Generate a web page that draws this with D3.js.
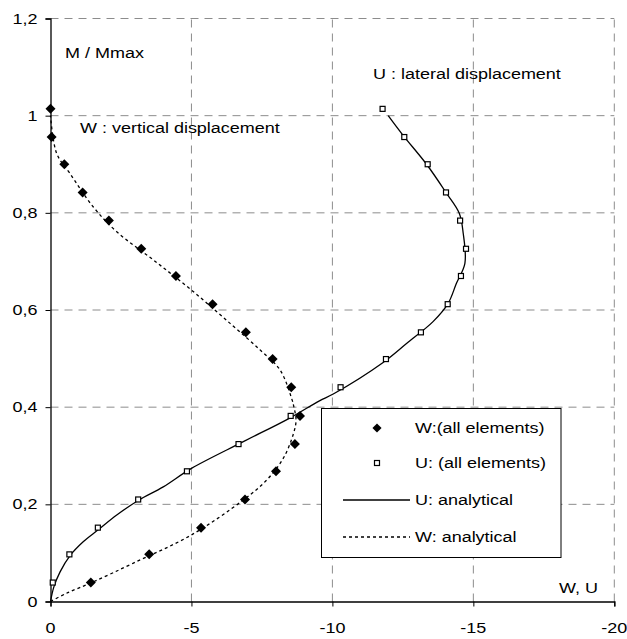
<!DOCTYPE html>
<html>
<head>
<meta charset="utf-8">
<script src="https://cdn.jsdelivr.net/npm/d3@7"></script>
<style>
  body { margin: 0; background: #fff; }
  svg text { font-family: Arial, "Liberation Sans", sans-serif; font-size: 15px; fill: #000; }
</style>
</head>
<body>
<div id="chart"></div>
<script>
// levels of M / Mmax where the elements were evaluated
const levels = [0.039, 0.097, 0.152, 0.21, 0.268, 0.324, 0.382, 0.441, 0.499, 0.554,
                0.612, 0.67, 0.726, 0.784, 0.842, 0.9, 0.956, 1.014];
const wElements = [-1.43, -3.5, -5.34, -6.9, -8.0, -8.67, -8.85, -8.54, -7.88, -6.93,
                   -5.75, -4.45, -3.22, -2.07, -1.14, -0.49, -0.04, 0];
const uElements = [-0.08, -0.67, -1.68, -3.11, -4.84, -6.67, -8.52, -10.29, -11.9, -13.14,
                   -14.09, -14.56, -14.74, -14.53, -14.03, -13.38, -12.55, -11.78];

// analytical curves [displacement, M/Mmax]
const uAnalytical = [[0, 0], [-0.12, 0.03], [-0.34, 0.061], [-0.7, 0.095], [-1.16, 0.123],
  [-1.7, 0.148], [-2.35, 0.178], [-3.11, 0.208], [-4.0, 0.236], [-5.0, 0.274], [-6.84, 0.329],
  [-8.47, 0.377], [-9.54, 0.413], [-10.03, 0.427], [-11.8, 0.492], [-12.63, 0.531],
  [-13.57, 0.576], [-14.1, 0.613], [-14.4, 0.655], [-14.7, 0.696], [-14.64, 0.758],
  [-14.5, 0.799], [-14.05, 0.84], [-13.34, 0.9], [-12.5, 0.96], [-11.98, 1.0]];
const wAnalytical = [[0, 0], [-0.57, 0.017], [-1.5, 0.04], [-2.94, 0.079], [-5.0, 0.137],
  [-6.84, 0.209], [-7.67, 0.25], [-8.26, 0.295], [-8.62, 0.346], [-8.71, 0.373],
  [-8.62, 0.404], [-8.57, 0.415], [-8.15, 0.476], [-7.45, 0.517], [-6.38, 0.572],
  [-5.0, 0.641], [-3.65, 0.703], [-2.35, 0.761], [-1.52, 0.812], [-0.69, 0.881],
  [-0.22, 0.922], [0, 1.0]];

const xTicks = [0, -5, -10, -15, -20];
const yTicks = [0, 0.2, 0.4, 0.6, 0.8, 1, 1.2];
const legendItems = ["W:(all elements)", "U: (all elements)", "U: analytical", "W: analytical"];

const width = 627, height = 639;
const margin = { top: 18.5, right: 12.7, bottom: 37.5, left: 50.5 };
const sx = 1.2; // the original text is stretched horizontally

const svg = d3.select("#chart").append("svg")
    .attr("width", width)
    .attr("height", height);

const x = d3.scaleLinear().domain([0, -20]).range([margin.left, width - margin.right]);
const y = d3.scaleLinear().domain([0, 1.2]).range([height - margin.bottom, margin.top]);

const fmt = v => String(v).replace(".", ",");

function label(txt, px, py, anchor) {
    svg.append("text")
        .attr("transform", `translate(${px},${py}) scale(${sx},1)`)
        .attr("text-anchor", anchor || "start")
        .text(txt);
}

// grid
svg.append("g").selectAll("line").data(xTicks.slice(1)).join("line")
    .attr("x1", d => x(d)).attr("x2", d => x(d))
    .attr("y1", y(0)).attr("y2", y(1.2))
    .attr("stroke", "#8c8c8c").attr("stroke-dasharray", "8,6");
svg.append("g").selectAll("line").data(yTicks.slice(1)).join("line")
    .attr("x1", x(0)).attr("x2", x(-20))
    .attr("y1", d => y(d)).attr("y2", d => y(d))
    .attr("stroke", "#8c8c8c").attr("stroke-dasharray", "8,6");

// axes
const xAxis = svg.append("g")
    .attr("transform", `translate(0,${y(0)})`)
    .call(d3.axisBottom(x).tickValues(xTicks).tickSize(5).tickFormat(""));
const yAxis = svg.append("g")
    .attr("transform", `translate(${x(0)},0)`)
    .call(d3.axisLeft(y).tickValues(yTicks).tickSize(5).tickFormat(""));
[xAxis, yAxis].forEach(a => {
    a.select(".domain").attr("stroke", "#000").attr("stroke-width", 1.3);
    a.selectAll(".tick line").attr("stroke", "#000");
});

xTicks.forEach(t => label(fmt(t), x(t), y(0) + 31, "middle"));
yTicks.forEach(t => label(fmt(t), x(0) - 13, y(t) + 5, "end"));

// analytical curves
const line = d3.line().x(d => x(d[0])).y(d => y(d[1])).curve(d3.curveCatmullRom);
svg.append("path").datum(uAnalytical).attr("d", line)
    .attr("fill", "none").attr("stroke", "#000").attr("stroke-width", 1.3);
svg.append("path").datum(wAnalytical).attr("d", line)
    .attr("fill", "none").attr("stroke", "#000").attr("stroke-width", 1.3)
    .attr("stroke-dasharray", "3,3");

// element results
const diamond = d3.symbol().type(d3.symbolSquare).size(50);
svg.append("g").selectAll("path").data(wElements).join("path")
    .attr("transform", (d, i) => `translate(${x(d)},${y(levels[i])}) rotate(45)`)
    .attr("d", diamond)
    .attr("fill", "#000");
svg.append("g").selectAll("rect").data(uElements).join("rect")
    .attr("x", d => x(d) - 2.5).attr("y", (d, i) => y(levels[i]) - 2.5)
    .attr("width", 5).attr("height", 5)
    .attr("fill", "#fff").attr("stroke", "#000").attr("stroke-width", 1.2);

// annotations
label("M / Mmax", 65, 58);
label("W : vertical displacement", 80, 133);
label("U : lateral displacement", 373, 79);
label("W, U", 598, 593, "end");

// legend
const lg = svg.append("g");
lg.append("rect").attr("x", 321.5).attr("y", 408.5).attr("width", 239.5).attr("height", 149)
    .attr("fill", "#fff").attr("stroke", "#000");
const rows = [428, 463, 500, 537];
lg.append("path").attr("transform", `translate(377,${rows[0]}) rotate(45)`)
    .attr("d", d3.symbol().type(d3.symbolSquare).size(42)).attr("fill", "#000");
lg.append("rect").attr("x", 374.5).attr("y", rows[1] - 2.5).attr("width", 5).attr("height", 5)
    .attr("fill", "#fff").attr("stroke", "#000").attr("stroke-width", 1.2);
lg.append("line").attr("x1", 343).attr("x2", 410).attr("y1", rows[2]).attr("y2", rows[2])
    .attr("stroke", "#000").attr("stroke-width", 1.3);
lg.append("line").attr("x1", 343).attr("x2", 410).attr("y1", rows[3]).attr("y2", rows[3])
    .attr("stroke", "#000").attr("stroke-width", 1.3).attr("stroke-dasharray", "3,3");
legendItems.forEach((t, i) => label(t, 415, rows[i] + 5));
</script>
</body>
</html>
